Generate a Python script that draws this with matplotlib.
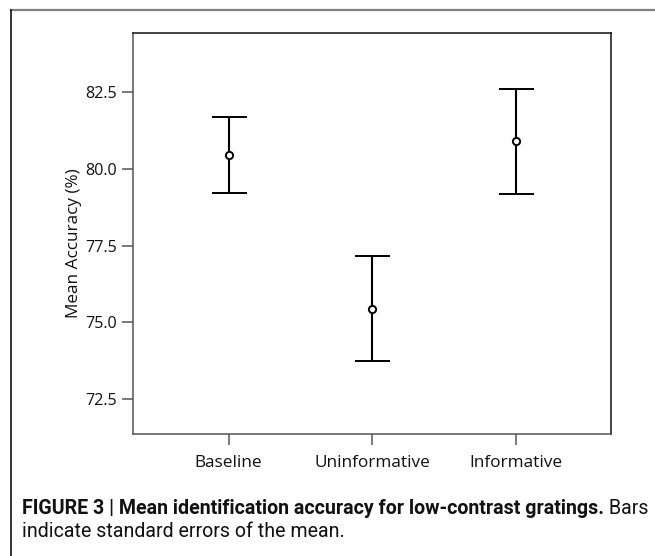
import matplotlib
matplotlib.use("Agg")
import matplotlib.pyplot as plt
from matplotlib.patches import Rectangle
from matplotlib.lines import Line2D

categories = ["Baseline", "Uninformative", "Informative"]
means = [80.46, 75.44, 80.90]
upper = [81.71, 77.16, 82.61]
lower = [79.21, 73.74, 79.18]
yticks = [72.5, 75.0, 77.5, 80.0, 82.5]
ylabel = "Mean Accuracy (%)"
caption_bold = "FIGURE 3 | Mean identification accuracy for low-contrast gratings."
caption_rest1 = " Bars"
caption_line2 = "indicate standard errors of the mean."

W, H = 655, 556
fig = plt.figure(figsize=(W / 100, H / 100), dpi=100)
fig.patch.set_facecolor("white")

left, right, top, bottom = 133, 611, 32.6, 434.3
ax = fig.add_axes([left / W, 1 - bottom / H, (right - left) / W, (bottom - top) / H])

xs = list(range(1, len(categories) + 1))
yerr = [[m - l for m, l in zip(means, lower)], [u - m for m, u in zip(means, upper)]]
ax.errorbar(xs, means, yerr=yerr, fmt="o", color="black", ecolor="black",
            elinewidth=1.5, capsize=12.6, capthick=1.6, markersize=5.2,
            markeredgewidth=1.4, markerfacecolor="white", markeredgecolor="black",
            zorder=3)

ax.set_xlim(0.334, 3.665)
ax.set_ylim(71.34, 84.45)
ax.set_xticks(xs)
ax.set_xticklabels(categories)
ax.set_yticks(yticks)
ax.set_yticklabels([f"{v:.1f}" for v in yticks])

tickfont = ["Open Sans", "DejaVu Sans"]
for lab in ax.get_xticklabels():
    lab.set_family(tickfont)
    lab.set_fontsize(12.4)
    lab.set_color("#111111")
for lab in ax.get_yticklabels():
    lab.set_family(tickfont)
    lab.set_fontsize(11.6)
    lab.set_color("#111111")

ax.tick_params(axis="both", direction="out", length=8, width=1.1, color="#555555")
ax.tick_params(axis="x", pad=7.2)
ax.tick_params(axis="y", pad=3.4)

for s in ["left", "bottom"]:
    ax.spines[s].set_color("#555555")
    ax.spines[s].set_linewidth(1.1)
for s in ["top", "right"]:
    ax.spines[s].set_color("#111111")
    ax.spines[s].set_linewidth(1.1)

ax.set_ylabel(ylabel, family=tickfont, fontsize=12.3, color="#111111")
ax.yaxis.set_label_coords((81.7 - left) / (right - left), (bottom - 243) / (bottom - top))

# clip bottom of x tick labels (as in reference)
fig.patches.append(Rectangle((0.02, 0), 0.98, 1 - 467.7 / H, transform=fig.transFigure,
                             facecolor="white", edgecolor="none", zorder=10))

# outer frame lines
fig.add_artist(Line2D([10.5 / W, 1], [1 - 10 / H, 1 - 10 / H], transform=fig.transFigure,
                      color="#808080", linewidth=1.6, zorder=11))
fig.add_artist(Line2D([10.7 / W, 10.7 / W], [0, 1 - 9.5 / H], transform=fig.transFigure,
                      color="#111111", linewidth=1.2, zorder=11))

# caption
capfont = ["Roboto", "DejaVu Sans"]
cfs = 14.1
t1 = fig.text(22 / W, 1 - 514 / H, caption_bold, family=capfont, fontsize=cfs,
              fontweight="bold", color="#111111", ha="left", va="baseline", zorder=12)
fig.canvas.draw()
bb = t1.get_window_extent(renderer=fig.canvas.get_renderer())
fig.text(bb.x1 / W, 1 - 514 / H, caption_rest1, family=capfont, fontsize=cfs,
         color="#111111", ha="left", va="baseline", zorder=12)
fig.text(22 / W, 1 - 537 / H, caption_line2, family=capfont, fontsize=cfs,
         color="#111111", ha="left", va="baseline", zorder=12)

fig.savefig("out.png", dpi=100, facecolor="white")
